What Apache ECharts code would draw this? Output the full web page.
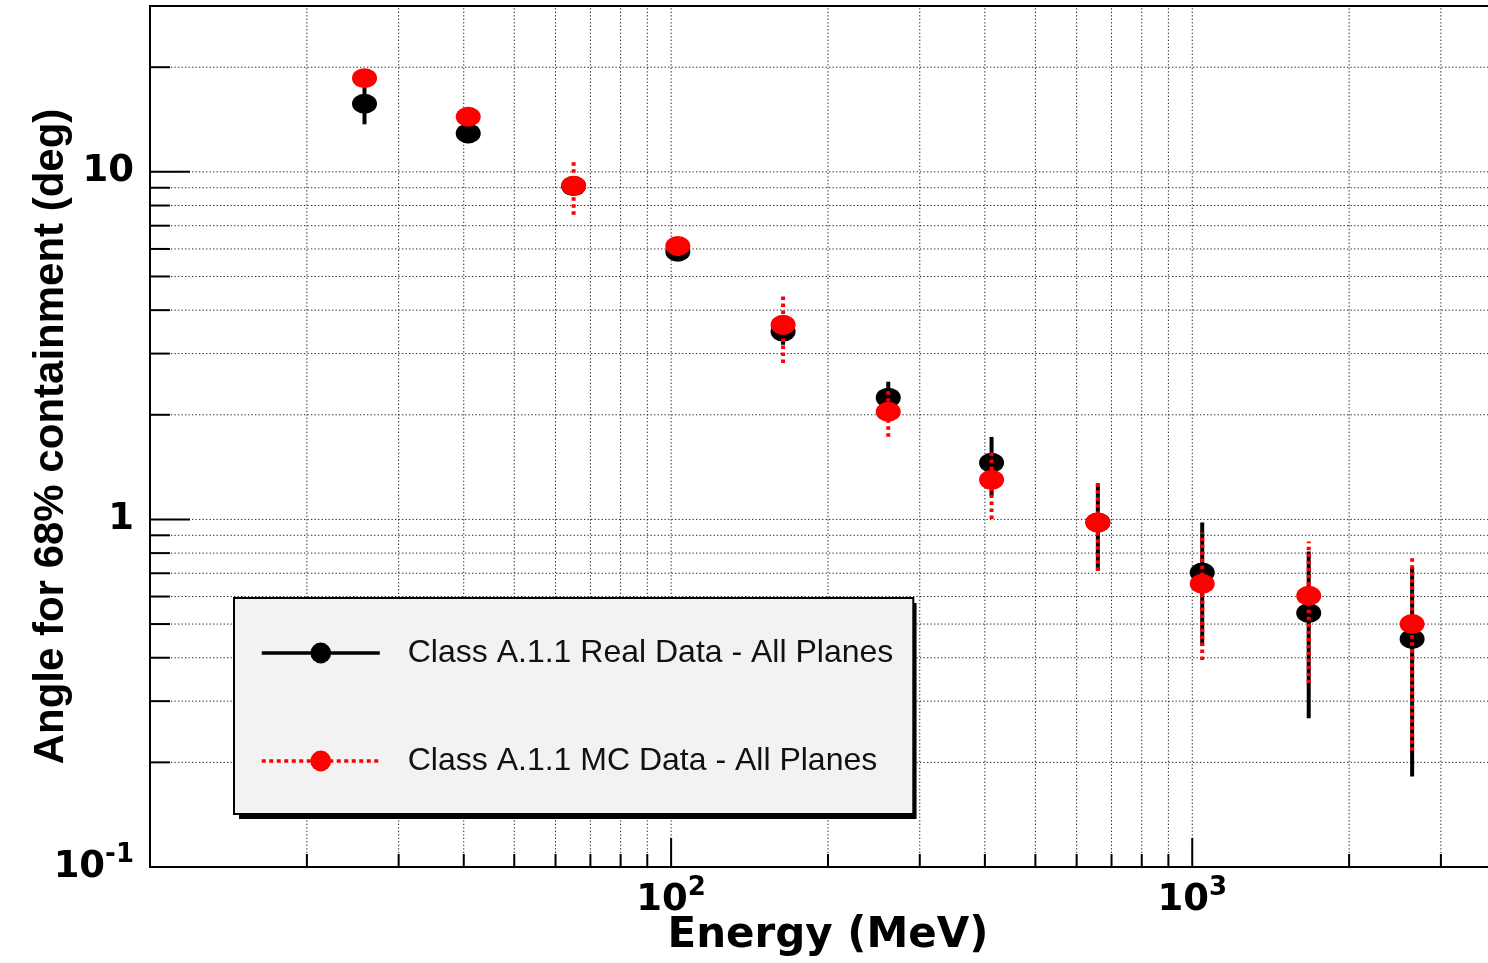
<!DOCTYPE html>
<html><head><meta charset="utf-8">
<script src="https://cdn.jsdelivr.net/npm/echarts@6/dist/echarts.min.js"></script>
<style>html,body{margin:0;padding:0;background:#fff}#c{width:1488px;height:963px}</style>
</head><body><div id="c"></div>
<script>
// ---- data ----
const energies   = [25.8, 40.8, 65.0, 103, 164, 261, 412, 659, 1045, 1673, 2642];
const realValues = [15.7, 12.9, 9.1, 5.89, 3.47, 2.24, 1.456, 0.98, 0.703, 0.538, 0.453];
const realLow    = [13.7, 12.1, 8.75, 5.58, 3.18, 2.01, 1.168, 0.712, 0.432, 0.268, 0.182];
const realHigh   = [17.9, 13.8, 9.46, 6.21, 3.78, 2.49, 1.727, 1.27, 0.98, 0.808, 0.727];
const mcValues   = [18.6, 14.4, 9.12, 6.12, 3.63, 2.04, 1.30, 0.98, 0.653, 0.603, 0.50];
const mcLow      = [17.65, 13.7, 7.52, 5.73, 2.82, 1.73, 1.003, 0.712, 0.394, 0.338, 0.216];
const mcHigh     = [19.6, 15.2, 10.9, 6.55, 4.40, 2.39, 1.563, 1.27, 0.917, 0.864, 0.777];

const realName = 'Class A.1.1 Real Data - All Planes';
const mcName   = 'Class A.1.1 MC Data - All Planes';

const X_MIN = 10, X_MAX = 4000, Y_MIN = 0.1, Y_MAX = 30;
const xMinorTicks = [20,30,40,50,60,70,80,90,200,300,400,500,600,700,800,900,2000,3000];
const xMajorTicks = [100, 1000];
const yMinorTicks = [0.2,0.3,0.4,0.5,0.6,0.7,0.8,0.9,2,3,4,5,6,7,8,9,20];
const yMajorTicks = [1, 10];
const xLabelValues = [100, 1000];
const xLabelTexts  = ['10^2', '10^3'];
const yLabelValues = [0.1, 1, 10];
const yLabelTexts  = ['10^-1', '1', '10'];

// ---- helpers ----
function toRich(t){
  const k = t.indexOf('^');
  return k < 0 ? '{b|' + t + '}' : '{b|' + t.slice(0,k) + '}{s|' + t.slice(k+1) + '}';
}
function labelFor(values, texts){
  return function(v){
    for (let i = 0; i < values.length; i++) {
      if (Math.abs(Math.log10(v) - Math.log10(values[i])) < 1e-6) return toRich(texts[i]);
    }
    return '';
  };
}
const rich = {
  b: {fontFamily:'DejaVu Sans', fontWeight:'bold', fontSize:37, color:'#000', lineHeight:50},
  s: {fontFamily:'DejaVu Sans', fontWeight:'bold', fontSize:26, color:'#000', lineHeight:26, verticalAlign:'top'}
};

const gridData = [];
xMinorTicks.forEach(v => gridData.push([v, Y_MIN, 0, 0]));
xMajorTicks.forEach(v => gridData.push([v, Y_MIN, 0, 1]));
yMinorTicks.forEach(v => gridData.push([X_MIN, v, 1, 0]));
yMajorTicks.forEach(v => gridData.push([X_MIN, v, 1, 1]));

function errSeries(name, lows, highs, color, dash, z){
  return {
    type:'custom', name: name, z: z, silent:true, animation:false,
    data: energies.map((e,i) => [e, lows[i], highs[i]]),
    encode: {x:0, y:[1,2]},
    renderItem: function(params, api){
      const p1 = api.coord([api.value(0), api.value(1)]);
      const p2 = api.coord([api.value(0), api.value(2)]);
      return {type:'line', shape:{x1:p1[0], y1:p1[1], x2:p2[0], y2:p2[1]},
              style:{stroke:color, lineWidth:4, lineDash:dash}};
    }
  };
}

const legendCommon = {
  orient:'vertical',
  itemWidth:118, itemHeight:26, itemGap:76,
  padding:[39,20,37,26],
  borderRadius:0, selectedMode:false
};

const chart = echarts.init(document.getElementById('c'), null, {renderer:'canvas'});
chart.setOption({
  animation:false,
  backgroundColor:'#fff',
  grid:{left:150, top:6, right:-18, bottom:96, outerBoundsMode:'none', containLabel:false,
        show:true, borderColor:'#000', borderWidth:2, backgroundColor:'transparent'},
  xAxis:{
    type:'log', logBase:10, min:X_MIN, max:X_MAX,
    axisLine:{show:false}, axisTick:{show:false}, splitLine:{show:false}, minorTick:{show:false},
    axisLabel:{formatter: labelFor(xLabelValues, xLabelTexts), rich: rich, margin:8, showMinLabel:true, showMaxLabel:true, hideOverlap:false},
    name:'Energy (MeV)', nameLocation:'middle', nameGap:48, nameMoveOverlap:false,
    nameTextStyle:{fontFamily:'DejaVu Sans', fontWeight:'bold', fontSize:42, color:'#000'}
  },
  yAxis:{
    type:'log', logBase:10, min:Y_MIN, max:Y_MAX,
    axisLine:{show:false}, axisTick:{show:false}, splitLine:{show:false}, minorTick:{show:false},
    axisLabel:{formatter: labelFor(yLabelValues, yLabelTexts), rich: rich, margin:16, showMinLabel:true, showMaxLabel:true, hideOverlap:false},
    name:'Angle for 68% containment (deg)', nameLocation:'middle', nameRotate:90, nameGap:78, nameMoveOverlap:false,
    nameTextStyle:{fontFamily:'Liberation Sans', fontWeight:'bold', fontSize:42, color:'#000'}
  },
  legend:[
    Object.assign({}, legendCommon, {
      id:'shadow', left:239, top:603, z:9,
      data:[
        {name: realName, itemStyle:{opacity:0}, lineStyle:{opacity:0}, textStyle:{color:'rgba(0,0,0,0)'}},
        {name: mcName, itemStyle:{opacity:0}, lineStyle:{opacity:0}, textStyle:{color:'rgba(0,0,0,0)'}}
      ],
      backgroundColor:'#000', borderWidth:0,
      textStyle:{fontFamily:'Liberation Sans', fontSize:32, color:'rgba(0,0,0,0)', padding:[0,0,0,23]}
    }),
    Object.assign({}, legendCommon, {
      id:'main', left:234, top:598, z:10,
      data:[
        {name: realName, itemStyle:{color:'#000'}, lineStyle:{color:'#000', width:3.5, type:'solid', opacity:1}},
        {name: mcName, itemStyle:{color:'#ff0000'}, lineStyle:{color:'#ff0000', width:3.5, type:[4,3.5], opacity:1}}
      ],
      backgroundColor:'#f2f2f2', borderColor:'#000', borderWidth:2,
      textStyle:{fontFamily:'Liberation Sans', fontSize:32, color:'#111', padding:[0,0,0,23]}
    })
  ],
  series:[
    {
      type:'custom', name:'grid', z:1, silent:true, animation:false,
      data: gridData, encode:{x:0, y:1},
      renderItem: function(params, api){
        const o = api.value(2), major = api.value(3);
        let a, b, t;
        if (o === 0) {
          const v = api.value(0);
          a = api.coord([v, Y_MIN]); b = api.coord([v, Y_MAX]);
          const len = major ? 29 : 13;
          t = {x1:a[0], y1:a[1], x2:a[0], y2:a[1]-len};
        } else {
          const v = api.value(1);
          a = api.coord([X_MIN, v]); b = api.coord([X_MAX, v]);
          const len = major ? 40 : 20;
          t = {x1:a[0], y1:a[1], x2:a[0]+len, y2:a[1]};
        }
        return {type:'group', children:[
          {type:'line', shape:{x1:a[0], y1:a[1], x2:b[0], y2:b[1]}, style:{stroke:'#222', lineWidth:1, lineDash:[1.3,2.2]}},
          {type:'line', shape:t, style:{stroke:'#000', lineWidth:2}}
        ]};
      }
    },
    errSeries('realErr', realLow, realHigh, '#000', null, 2),
    {type:'line', name: realName, data: energies.map((e,i) => [e, realValues[i]]),
     symbol:'circle', symbolSize:[25,20], showSymbol:true, lineStyle:{opacity:0, width:0},
     itemStyle:{color:'#000'}, z:3, silent:true, animation:false},
    errSeries('mcErr', mcLow, mcHigh, '#ff0000', [3.5,3.5], 4),
    {type:'line', name: mcName, data: energies.map((e,i) => [e, mcValues[i]]),
     symbol:'circle', symbolSize:[25,20], showSymbol:true, lineStyle:{opacity:0, width:0},
     itemStyle:{color:'#ff0000'}, z:5, silent:true, animation:false}
  ]
});
</script></body></html>
